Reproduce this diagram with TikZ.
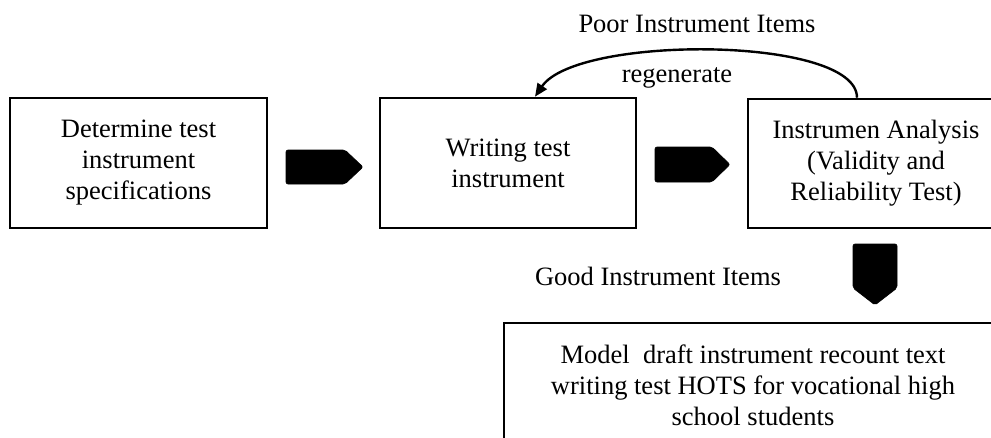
\documentclass[tikz,border=0pt]{standalone}
\usepackage{fontspec}
\setmainfont{Liberation Serif}
\usetikzlibrary{arrows.meta}
\begin{document}
\begin{tikzpicture}[x=1pt,y=-1pt,
  every node/.style={font=\fontsize{26.5}{31}\selectfont},
  procbox/.style={draw=black, line width=2.6pt, align=center, inner sep=0pt},
  blockarrow/.style={fill=black, draw=black, line width=0.6pt, rounded corners=2pt},
  plainlabel/.style={anchor=base, inner sep=0pt}]
\useasboundingbox[fill=white] (0,0) rectangle (991,437);

\node[procbox, minimum width=257, minimum height=130] (b1) at (138.5,163)
  {Determine test\\instrument\\specifications};
\node[procbox, minimum width=256, minimum height=130] (b2) at (508,163)
  {Writing test\\instrument};
\node[procbox, minimum width=256, minimum height=129] (b3) at (876,163.5)
  {Instrumen Analysis\\(Validity and\\Reliability Test)};
\node[procbox, minimum width=498, minimum height=124] (b4) at (753,385)
  {Model~~draft instrument recount text\\writing test HOTS for vocational high\\school students};

% block arrows (pentagons)
\coordinate (a1) at (286,150);
\coordinate (a2) at (655,147);
\coordinate (a3) at (853,244);
\fill[blockarrow] (a1) -- ++(59,0) -- ++(18,17) -- ++(-18,17) -- ++(-59,0) -- cycle;
\fill[blockarrow] (a2) -- ++(57,0) -- ++(18,17.5) -- ++(-18,17.5) -- ++(-57,0) -- cycle;
\fill[blockarrow] (a3) -- ++(44,0) -- ++(0,44) -- ++(-22,17) -- ++(-22,-17) -- cycle;

\draw[line width=2.4pt, -{Triangle[length=13pt,width=11pt]}]
  ([xshift=-19pt]b3.north) .. controls +(0,-62) and +(42,-62) .. ([xshift=27pt]b2.north);

\node[plainlabel] (poor) at (697,32) {Poor Instrument Items};
\node[plainlabel] (regen) at (677,82) {regenerate};
\node[plainlabel] (good) at (658,285) {Good Instrument Items};
\end{tikzpicture}
\end{document}
